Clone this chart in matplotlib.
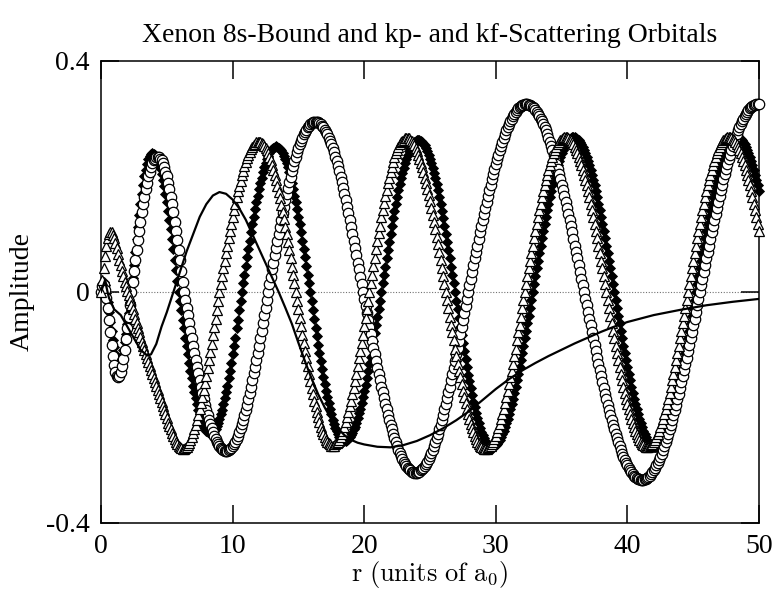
import numpy as np
import matplotlib
matplotlib.use("Agg")
import matplotlib.pyplot as plt

plt.rcParams['font.family'] = ['Liberation Serif', 'DejaVu Serif']
plt.rcParams['mathtext.fontset'] = 'cm'

# radial grid step of the scattering orbitals (units of a0)
r_step = 0.1

# 8s bound orbital (solid line)
r_8s = [0.0, 0.3, 0.6, 1.0, 1.5, 2.0, 2.5, 3.0, 3.5, 3.8,
        4.2, 4.6, 5.0, 5.5, 6.0, 6.5, 7.0, 7.5, 8.0, 8.5,
        9.0, 9.5, 10.0, 10.5, 11.0, 11.5, 12.0, 12.5, 13.0, 13.5,
        14.0, 14.5, 15.0, 15.5, 16.0, 16.5, 17.0, 17.5, 18.0, 18.5,
        19.0, 19.5, 20.0, 21.0, 22.0, 23.0, 24.0, 25.0, 26.0, 27.0,
        28.0, 29.0, 30.0, 31.0, 32.0, 33.0, 34.0, 35.0, 36.0, 37.0,
        38.0, 39.0, 40.0, 42.0, 44.0, 46.0, 48.0, 50.0]
amp_8s = [0.0, 0.02, -0.01, -0.03, -0.04, -0.06, -0.08, -0.10, -0.11, -0.108,
          -0.09, -0.06, -0.035, 0.0, 0.035, 0.07, 0.10, 0.13, 0.152, 0.167,
          0.173, 0.17, 0.16, 0.145, 0.125, 0.10, 0.075, 0.05, 0.025, 0.0,
          -0.027, -0.055, -0.088, -0.12, -0.15, -0.177, -0.2, -0.22, -0.236, -0.248,
          -0.256, -0.261, -0.264, -0.268, -0.269, -0.265, -0.258, -0.248, -0.236, -0.222,
          -0.206, -0.187, -0.168, -0.151, -0.136, -0.123, -0.111, -0.1, -0.089, -0.079,
          -0.069, -0.06, -0.052, -0.04, -0.031, -0.023, -0.017, -0.012]

# kp scattering orbital (filled diamonds), r = 0.0 .. 50.0
amp_kp_a = [
    0.0, 0.012, 0.018, 0.012, -0.002, -0.018, -0.035, -0.052, -0.068, -0.083,
    -0.096, -0.107, -0.115, -0.120, -0.121, -0.118, -0.111, -0.100, -0.086, -0.072,
    -0.055, -0.037, -0.018,
    0.0, 0.024, 0.047, 0.070, 0.092, 0.113, 0.133, 0.152, 0.170, 0.186,
    0.200, 0.212, 0.222, 0.230, 0.235, 0.239, 0.240,
    0.239, 0.237, 0.233, 0.228, 0.222, 0.214, 0.205, 0.194, 0.183, 0.170,
    0.156, 0.141, 0.125, 0.109, 0.092, 0.074, 0.056, 0.038, 0.019, 0.0,
    -0.016, -0.032, -0.048, -0.063, -0.079, -0.094, -0.108, -0.123, -0.136, -0.149,
    -0.162, -0.173, -0.184, -0.194, -0.204, -0.212, -0.220, -0.226, -0.232, -0.237,
    -0.240, -0.243, -0.244, -0.245,
    -0.244, -0.243, -0.240, -0.237, -0.232, -0.226, -0.220, -0.212, -0.204, -0.194,
    -0.184, -0.173, -0.162, -0.149, -0.136, -0.123, -0.108, -0.094, -0.079, -0.063,
    -0.048, -0.032, -0.016, 0.0,
    0.015, 0.030, 0.045, 0.060, 0.075, 0.089, 0.103, 0.117, 0.130, 0.143,
    0.155, 0.167, 0.178, 0.189, 0.198, 0.207, 0.216, 0.223, 0.230, 0.236,
    0.241, 0.245, 0.248, 0.250, 0.251, 0.252,
    0.251, 0.250, 0.248, 0.245, 0.241, 0.236, 0.230, 0.223, 0.216, 0.207,
    0.198, 0.189, 0.178, 0.167, 0.155, 0.143, 0.130, 0.117, 0.103, 0.089,
    0.075, 0.060, 0.045, 0.030, 0.015, 0.0,
    -0.016, -0.031, -0.047, -0.062, -0.077, -0.092, -0.106, -0.120, -0.134, -0.147,
    -0.159, -0.171, -0.182, -0.193, -0.203, -0.212, -0.221, -0.229, -0.235, -0.241,
    -0.246, -0.251, -0.254, -0.256, -0.258, -0.258,
    -0.258, -0.256, -0.254, -0.251, -0.248, -0.244, -0.238, -0.233, -0.226, -0.218,
    -0.210, -0.202, -0.192, -0.182, -0.172, -0.161, -0.149, -0.137, -0.125, -0.112,
    -0.099, -0.085, -0.071, -0.057, -0.043, -0.029, -0.015, 0.0,
]
amp_kp_b = [
    0.015, 0.030, 0.044, 0.059, 0.073, 0.087, 0.101, 0.115, 0.128, 0.140,
    0.153, 0.165, 0.176, 0.187, 0.197, 0.206, 0.215, 0.224, 0.231, 0.238,
    0.244, 0.249, 0.254, 0.257, 0.260, 0.262, 0.264, 0.264,
    0.264, 0.262, 0.260, 0.257, 0.254, 0.249, 0.244, 0.238, 0.231, 0.224,
    0.215, 0.206, 0.197, 0.187, 0.176, 0.165, 0.153, 0.140, 0.128, 0.115,
    0.101, 0.087, 0.073, 0.059, 0.044, 0.030, 0.015, 0.0,
    -0.015, -0.030, -0.045, -0.060, -0.074, -0.089, -0.103, -0.116, -0.130, -0.143,
    -0.155, -0.167, -0.179, -0.190, -0.200, -0.210, -0.219, -0.227, -0.235, -0.242,
    -0.248, -0.253, -0.258, -0.261, -0.264, -0.266, -0.268, -0.268,
    -0.268, -0.267, -0.265, -0.263, -0.260, -0.256, -0.251, -0.246, -0.241, -0.234,
    -0.227, -0.220, -0.212, -0.203, -0.194, -0.185, -0.175, -0.164, -0.153, -0.142,
    -0.130, -0.118, -0.106, -0.093, -0.080, -0.067, -0.054, -0.041, -0.027, -0.014, 0.0,
    0.014, 0.027, 0.041, 0.054, 0.067, 0.080, 0.093, 0.106, 0.118, 0.130,
    0.142, 0.153, 0.164, 0.175, 0.185, 0.194, 0.203, 0.212, 0.220, 0.227,
    0.234, 0.241, 0.246, 0.251, 0.256, 0.260, 0.263, 0.265, 0.267, 0.268, 0.268,
    0.268, 0.267, 0.265, 0.263, 0.260, 0.256, 0.251, 0.246, 0.241, 0.234,
    0.227, 0.220, 0.212, 0.203, 0.194, 0.185, 0.175, 0.164, 0.153, 0.142,
    0.130, 0.118, 0.106, 0.093, 0.080, 0.067, 0.054, 0.041, 0.027, 0.014, 0.0,
    -0.014, -0.027, -0.041, -0.054, -0.067, -0.080, -0.093, -0.106, -0.118, -0.130,
    -0.142, -0.153, -0.164, -0.175, -0.185, -0.194, -0.203, -0.212, -0.220, -0.227,
    -0.234, -0.241, -0.246, -0.251, -0.256, -0.260, -0.263, -0.265, -0.267, -0.268, -0.268,
    -0.268, -0.267, -0.265, -0.263, -0.260, -0.256, -0.251, -0.246, -0.241, -0.234,
    -0.227, -0.220, -0.212, -0.203, -0.194, -0.185, -0.175, -0.164, -0.153, -0.142,
    -0.130, -0.118, -0.106, -0.093, -0.080, -0.067, -0.054, -0.041, -0.027, -0.014, 0.0,
    0.014, 0.027, 0.041, 0.054, 0.067, 0.080, 0.093, 0.106, 0.118, 0.130,
    0.142, 0.153, 0.164, 0.175, 0.185, 0.194, 0.203, 0.212, 0.220, 0.227,
    0.234, 0.241, 0.246, 0.251, 0.256, 0.260, 0.263, 0.265, 0.267, 0.268, 0.268,
    0.268, 0.267, 0.265, 0.263, 0.260, 0.256, 0.251, 0.246, 0.241, 0.234,
    0.227, 0.220, 0.212, 0.203, 0.194, 0.185, 0.175,
]

# kf scattering orbital (open triangles), r = 0.0 .. 50.0
amp_kf_a = [
    0.0, 0.020, 0.042, 0.062, 0.080, 0.093, 0.101, 0.104, 0.103, 0.099,
    0.093, 0.085, 0.076, 0.066, 0.056, 0.046, 0.036, 0.027, 0.018, 0.010,
    0.002, -0.006, -0.014, -0.022, -0.030, -0.038, -0.046, -0.054, -0.062, -0.070,
    -0.078, -0.086, -0.093, -0.100, -0.107, -0.114, -0.121, -0.128, -0.135, -0.142,
    -0.149, -0.156, -0.163, -0.170, -0.177, -0.184, -0.191, -0.198, -0.205, -0.212,
    -0.219, -0.226, -0.232, -0.238, -0.244, -0.249, -0.254, -0.259, -0.263, -0.266,
    -0.269, -0.271, -0.272,
    -0.272, -0.270, -0.268, -0.265, -0.261, -0.257, -0.251, -0.245, -0.238, -0.230,
    -0.222, -0.213, -0.203, -0.192, -0.181, -0.170, -0.157, -0.145, -0.132, -0.118,
    -0.104, -0.090, -0.075, -0.061, -0.046, -0.031, -0.015, 0.0,
    0.014, 0.027, 0.041, 0.054, 0.067, 0.080, 0.093, 0.106, 0.118, 0.130,
    0.142, 0.153, 0.164, 0.174, 0.184, 0.193, 0.202, 0.210, 0.218, 0.225,
    0.232, 0.238, 0.243, 0.247, 0.251, 0.254, 0.257, 0.259, 0.260, 0.260,
    0.260, 0.258, 0.256, 0.253, 0.250, 0.245, 0.240, 0.234, 0.228, 0.220,
    0.212, 0.203, 0.194, 0.184, 0.173, 0.162, 0.150, 0.138, 0.126, 0.113,
    0.100, 0.086, 0.072, 0.058, 0.044, 0.029, 0.015, 0.0,
    -0.015, -0.030, -0.045, -0.059, -0.074, -0.088, -0.102, -0.115, -0.129, -0.142,
    -0.154, -0.166, -0.177, -0.188, -0.198, -0.208, -0.217, -0.225, -0.233, -0.240,
    -0.246, -0.251, -0.256, -0.259, -0.262, -0.264, -0.266, -0.266,
    -0.266, -0.264, -0.262, -0.259, -0.256, -0.251, -0.246, -0.240, -0.233, -0.225,
    -0.217, -0.208, -0.198, -0.188, -0.177, -0.166, -0.154, -0.142, -0.129, -0.115,
    -0.102, -0.088, -0.074, -0.059, -0.045, -0.030, -0.015, 0.0,
    0.015, 0.030, 0.045, 0.059, 0.074, 0.088, 0.102, 0.115, 0.129, 0.142,
    0.154, 0.166, 0.177, 0.188, 0.198, 0.208, 0.217, 0.225, 0.233, 0.240,
    0.246, 0.251, 0.256, 0.259, 0.262, 0.264, 0.266, 0.267,
]
amp_kf_b = [
    0.267, 0.266, 0.264, 0.261, 0.258, 0.254, 0.249, 0.244, 0.238, 0.231,
    0.224, 0.216, 0.208, 0.198, 0.189, 0.179, 0.168, 0.157, 0.145, 0.134,
    0.121, 0.109, 0.096, 0.083, 0.069, 0.056, 0.042, 0.028, 0.014, 0.0,
    -0.014, -0.028, -0.043, -0.057, -0.070, -0.084, -0.098, -0.111, -0.124, -0.136,
    -0.148, -0.160, -0.171, -0.182, -0.192, -0.202, -0.211, -0.220, -0.228, -0.236,
    -0.242, -0.249, -0.254, -0.259, -0.263, -0.266, -0.269, -0.271, -0.272, -0.272,
    -0.272, -0.271, -0.269, -0.266, -0.263, -0.259, -0.254, -0.249, -0.242, -0.236,
    -0.228, -0.220, -0.211, -0.202, -0.192, -0.182, -0.171, -0.160, -0.148, -0.136,
    -0.124, -0.111, -0.098, -0.084, -0.070, -0.057, -0.043, -0.028, -0.014, 0.0,
    0.014, 0.027, 0.041, 0.054, 0.067, 0.080, 0.093, 0.106, 0.118, 0.130,
    0.142, 0.153, 0.164, 0.175, 0.185, 0.194, 0.203, 0.212, 0.220, 0.227,
    0.234, 0.241, 0.246, 0.251, 0.256, 0.260, 0.263, 0.265, 0.267, 0.268, 0.268,
    0.268, 0.267, 0.265, 0.263, 0.260, 0.256, 0.251, 0.246, 0.241, 0.234,
    0.227, 0.220, 0.212, 0.203, 0.194, 0.185, 0.175, 0.164, 0.153, 0.142,
    0.130, 0.118, 0.106, 0.093, 0.080, 0.067, 0.054, 0.041, 0.027, 0.014, 0.0,
    -0.014, -0.027, -0.041, -0.054, -0.067, -0.080, -0.093, -0.106, -0.118, -0.130,
    -0.142, -0.153, -0.164, -0.175, -0.185, -0.194, -0.203, -0.212, -0.220, -0.227,
    -0.234, -0.241, -0.246, -0.251, -0.256, -0.260, -0.263, -0.265, -0.267, -0.268, -0.268,
    -0.268, -0.267, -0.265, -0.263, -0.260, -0.256, -0.251, -0.246, -0.241, -0.234,
    -0.227, -0.220, -0.212, -0.203, -0.194, -0.185, -0.175, -0.164, -0.153, -0.142,
    -0.130, -0.118, -0.106, -0.093, -0.080, -0.067, -0.054, -0.041, -0.027, -0.014, 0.0,
    0.014, 0.027, 0.041, 0.054, 0.067, 0.080, 0.093, 0.106, 0.118, 0.130,
    0.142, 0.153, 0.164, 0.175, 0.185, 0.194, 0.203, 0.212, 0.220, 0.227,
    0.234, 0.241, 0.246, 0.251, 0.256, 0.260, 0.263, 0.265, 0.267, 0.268, 0.268,
    0.268, 0.267, 0.265, 0.263, 0.260, 0.256, 0.251, 0.246, 0.241, 0.234,
    0.227, 0.220, 0.212, 0.203, 0.194, 0.185, 0.175, 0.164, 0.153, 0.142,
    0.130, 0.118, 0.106,
]

# second kp-type scattering orbital (open circles), r = 0.0 .. 50.0
amp_kc_a = [
    0.0, 0.010, 0.012, 0.004, -0.010, -0.028, -0.048, -0.070, -0.091, -0.110,
    -0.126, -0.138, -0.145, -0.147, -0.145, -0.139, -0.129, -0.116, -0.100, -0.082,
    -0.063, -0.043, -0.022,
    0.0, 0.018, 0.037, 0.055, 0.072, 0.090, 0.106, 0.122, 0.138, 0.152,
    0.165, 0.178, 0.189, 0.200, 0.208, 0.216, 0.223, 0.228, 0.231, 0.233, 0.234,
    0.233, 0.231, 0.228, 0.223, 0.216, 0.208, 0.200, 0.189, 0.178, 0.165,
    0.152, 0.138, 0.122, 0.106, 0.090, 0.072, 0.055, 0.037, 0.018, 0.0,
    -0.014, -0.027, -0.040, -0.054, -0.067, -0.080, -0.093, -0.105, -0.118, -0.130,
    -0.141, -0.153, -0.164, -0.175, -0.185, -0.195, -0.204, -0.213, -0.221, -0.229,
    -0.236, -0.243, -0.249, -0.254, -0.259, -0.263, -0.267, -0.270, -0.272, -0.274,
    -0.275, -0.275,
    -0.275, -0.274, -0.272, -0.270, -0.267, -0.263, -0.259, -0.254, -0.249, -0.243,
    -0.236, -0.229, -0.221, -0.213, -0.204, -0.195, -0.185, -0.175, -0.164, -0.153,
    -0.141, -0.130, -0.118, -0.105, -0.093, -0.080, -0.067, -0.054, -0.040, -0.027,
    -0.014, 0.0,
    0.013, 0.026, 0.039, 0.051, 0.064, 0.076, 0.089, 0.101, 0.113, 0.125,
    0.136, 0.148, 0.159, 0.169, 0.180, 0.190, 0.199, 0.209, 0.218, 0.226,
    0.234, 0.242, 0.249, 0.256, 0.262, 0.267, 0.273, 0.277, 0.281, 0.285,
    0.288, 0.291, 0.293, 0.294, 0.295, 0.295,
    0.295, 0.294, 0.293, 0.291, 0.288, 0.285, 0.281, 0.277, 0.273, 0.267,
    0.262, 0.256, 0.249, 0.242, 0.234, 0.226, 0.218, 0.209, 0.199, 0.190,
    0.180, 0.169, 0.159, 0.148, 0.136, 0.125, 0.113, 0.101, 0.089, 0.076,
    0.064, 0.051, 0.039, 0.026, 0.013, 0.0,
]
amp_kc_b = [
    -0.012, -0.025, -0.037, -0.049, -0.061, -0.073, -0.085, -0.097, -0.108, -0.120,
    -0.131, -0.142, -0.153, -0.164, -0.174, -0.184, -0.194, -0.203, -0.213, -0.221,
    -0.230, -0.238, -0.246, -0.253, -0.260, -0.267, -0.273, -0.279, -0.284, -0.289,
    -0.294, -0.298, -0.301, -0.304, -0.307, -0.309, -0.311, -0.312, -0.313, -0.313,
    -0.313, -0.312, -0.311, -0.309, -0.307, -0.304, -0.301, -0.298, -0.294, -0.289,
    -0.284, -0.279, -0.273, -0.267, -0.260, -0.253, -0.246, -0.238, -0.230, -0.221,
    -0.213, -0.203, -0.194, -0.184, -0.174, -0.164, -0.153, -0.142, -0.131, -0.120,
    -0.108, -0.097, -0.085, -0.073, -0.061, -0.049, -0.037, -0.025, -0.012, 0.0,
    0.012, 0.023, 0.035, 0.046, 0.058, 0.069, 0.080, 0.092, 0.103, 0.114,
    0.124, 0.135, 0.146, 0.156, 0.166, 0.176, 0.185, 0.195, 0.204, 0.213,
    0.222, 0.230, 0.238, 0.246, 0.253, 0.260, 0.267, 0.273, 0.280, 0.285,
    0.291, 0.296, 0.300, 0.305, 0.308, 0.312, 0.315, 0.318, 0.320, 0.322,
    0.323, 0.324, 0.325, 0.325,
    0.325, 0.324, 0.323, 0.322, 0.320, 0.318, 0.315, 0.312, 0.308, 0.305,
    0.300, 0.296, 0.291, 0.285, 0.280, 0.273, 0.267, 0.260, 0.253, 0.246,
    0.238, 0.230, 0.222, 0.213, 0.204, 0.195, 0.185, 0.176, 0.166, 0.156,
    0.146, 0.135, 0.124, 0.114, 0.103, 0.092, 0.080, 0.069, 0.058, 0.046,
    0.035, 0.023, 0.012, 0.0,
    -0.012, -0.023, -0.035, -0.046, -0.058, -0.069, -0.080, -0.092, -0.103, -0.114,
    -0.124, -0.135, -0.146, -0.156, -0.166, -0.176, -0.185, -0.195, -0.204, -0.213,
    -0.222, -0.230, -0.238, -0.246, -0.253, -0.260, -0.267, -0.273, -0.280, -0.285,
    -0.291, -0.296, -0.300, -0.305, -0.308, -0.312, -0.315, -0.318, -0.320, -0.322,
    -0.323, -0.324, -0.325, -0.325,
    -0.325, -0.324, -0.323, -0.322, -0.320, -0.318, -0.315, -0.312, -0.308, -0.305,
    -0.300, -0.296, -0.291, -0.285, -0.280, -0.273, -0.267, -0.260, -0.253, -0.246,
    -0.238, -0.230, -0.222, -0.213, -0.204, -0.195, -0.185, -0.176, -0.166, -0.156,
    -0.146, -0.135, -0.124, -0.114, -0.103, -0.092, -0.080, -0.069, -0.058, -0.046,
    -0.035, -0.023, -0.012, 0.0,
    0.012, 0.023, 0.035, 0.046, 0.058, 0.069, 0.080, 0.092, 0.103, 0.114,
    0.124, 0.135, 0.146, 0.156, 0.166, 0.176, 0.185, 0.195, 0.204, 0.213,
    0.222, 0.230, 0.238, 0.246, 0.253, 0.260, 0.267, 0.273, 0.280, 0.285,
    0.291, 0.296, 0.300, 0.305, 0.308, 0.312, 0.315, 0.318, 0.320, 0.322,
    0.323, 0.324, 0.325, 0.325, 0.325,
]

x_ticks = [0, 10, 20, 30, 40, 50]
y_ticks = [-0.4, 0, 0.4]
y_tick_labels = ['-0.4', '0', '0.4']

amp_kp = amp_kp_a + amp_kp_b
amp_kf = amp_kf_a + amp_kf_b
amp_kc = amp_kc_a + amp_kc_b
r_kp = np.arange(len(amp_kp)) * r_step
r_kf = np.arange(len(amp_kf)) * r_step
r_kc = np.arange(len(amp_kc)) * r_step

fig = plt.figure(figsize=(7.8, 5.96), dpi=100)
ax = fig.add_axes([0.1295, 0.1225, 0.8436, 0.7752])

ax.axhline(0, color='0.45', lw=0.8, ls=(0, (1, 1.5)), zorder=1)

ax.plot(r_kp, amp_kp, ls='none', marker='D', ms=5.5, mfc='black', mec='black',
        mew=0.6, clip_on=False, zorder=3)
ax.plot(r_kc, amp_kc, ls='none', marker='o', ms=7.5, mfc='white', mec='black',
        mew=0.9, clip_on=False, zorder=4)
ax.plot(r_kf, amp_kf, ls='none', marker='^', ms=7.5, mfc='white', mec='black',
        mew=0.9, clip_on=False, zorder=5)
ax.plot(r_8s, amp_8s, color='black', lw=1.6, zorder=6)

ax.set_xlim(0, 50)
ax.set_ylim(-0.4, 0.4)
ax.set_xticks(x_ticks)
ax.set_yticks(y_ticks)
ax.set_yticklabels(y_tick_labels)
ax.tick_params(direction='in', length=13, width=1.1, top=True, right=True,
               labelsize=20, pad=8)
for s in ax.spines.values():
    s.set_linewidth(1.1)

ax.set_title('Xenon 8s-Bound and kp- and kf-Scattering Orbitals', fontsize=20, pad=14)
ax.set_xlabel(r'$\mathrm{r\ (units\ of\ a_0)}$', fontsize=19, labelpad=0)
ax.set_ylabel('Amplitude', fontsize=20, labelpad=8)

fig.savefig('out.png', dpi=100)
